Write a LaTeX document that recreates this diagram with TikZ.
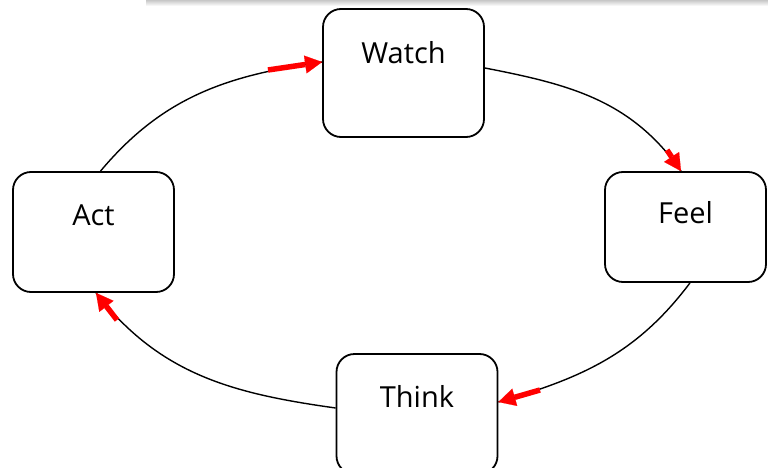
\documentclass[tikz,border=0pt]{standalone}
\usepackage{fontspec}
\setmainfont{Open Sans}
\usetikzlibrary{arrows.meta}
\tikzset{
  box/.style={draw=black, line width=1.8pt, rounded corners=18pt, minimum width=161pt, minimum height=#1, inner sep=0pt, fill=white},
  lbl/.style={font=\fontsize{29pt}{34pt}\selectfont, anchor=base, inner sep=0pt},
  link/.style={line width=1.4pt},
  redarrow/.style={red, line width=5.5pt, -{Triangle[length=17pt,width=18pt,line width=0.1pt]}}
}
\begin{document}
\begin{tikzpicture}[x=1pt,y=1pt]
\useasboundingbox (0,0) rectangle (768,-468);
\fill[white] (0,0) rectangle (768,-468);
\shade[top color=black!22, bottom color=white] (146,0) rectangle (768,-6);

\node[box=128pt] (watch) at (403.5,-73) {};
\node[box=110pt] (feel) at (685.5,-227) {};
\node[box=120pt] (act) at (93.5,-232) {};
\node[box=120pt] (think) at (417,-414) {};

\node[lbl] (tw) at ([yshift=-55.5pt]watch.north) {Watch};
\node[lbl] (tf) at ([yshift=-52.5pt]feel.north) {Feel};
\node[lbl] (ta) at ([yshift=-54pt]act.north) {Act};
\node[lbl] (tt) at ([yshift=-54.5pt]think.north) {Think};

\coordinate (s1) at ([xshift=7pt]act.north);
\coordinate (e1) at ([yshift=11pt]watch.west);
\coordinate (s2) at ([yshift=5pt]watch.east);
\coordinate (e2) at ([xshift=-4.5pt]feel.north);
\coordinate (s3) at ([xshift=4.5pt]feel.south);
\coordinate (e3) at ([yshift=12pt]think.east);
\coordinate (s4) at ([yshift=6pt]think.west);
\coordinate (e4) at ([xshift=2.5pt]act.south);

\coordinate (r1) at (268,-70);
\coordinate (r2) at (667,-150);
\coordinate (r3) at (540,-390);
\coordinate (r4) at (117,-320);

\draw[link] (s1) to[out=50,in=188] (e1);
\draw[link] (s2) to[out=-11,in=125] (e2);
\draw[link] (s3) to[out=-127,in=16] (e3);
\draw[link] (s4) to[out=172,in=-52] (e4);

\draw[redarrow] (r1) -- (e1);
\draw[redarrow] (r2) -- (e2);
\draw[redarrow] (r3) -- (e3);
\draw[redarrow] (r4) -- (e4);
\end{tikzpicture}
\end{document}
